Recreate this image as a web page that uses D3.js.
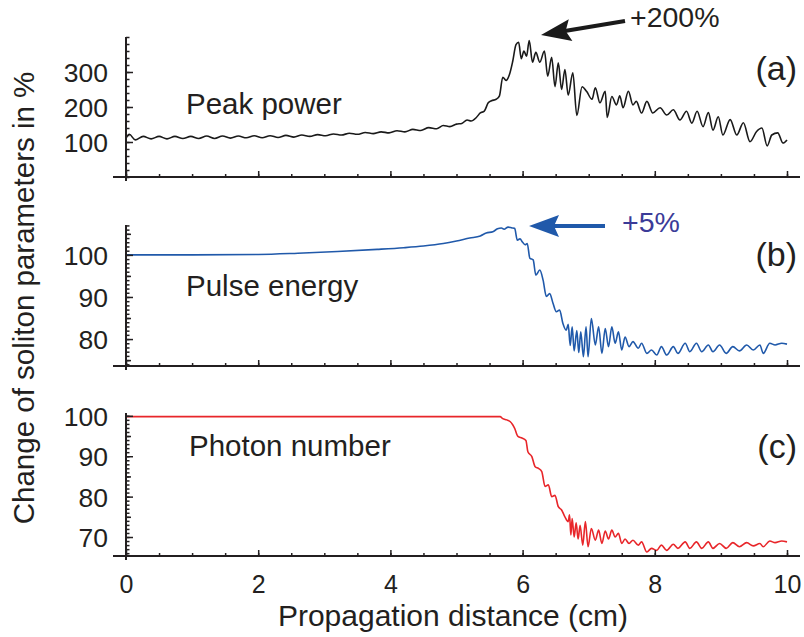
<!DOCTYPE html>
<html>
<head>
<meta charset="utf-8">
<script src="https://cdn.jsdelivr.net/npm/d3@7"></script>
<style>
  body { margin: 0; background: #fff; }
  svg text { font-family: "Liberation Sans", Arial, sans-serif; fill: #231f20; }
</style>
</head>
<body>
<svg width="804" height="637"></svg>
<script>
// data
const peakDist = [0,0.05,0.14,0.26,0.38,0.5,0.62,0.74,0.86,0.98,1.1,1.22,1.34,1.46,1.58,1.7,1.82,1.94,2.06,2.18,2.3,2.42,2.54,2.66,2.78,2.9,3.02,3.14,3.26,3.38,3.5,3.62,3.74,3.86,3.98,4.1,4.22,4.34,4.46,4.58,4.7,4.8,4.9,5.0,5.08,5.16,5.22,5.3,5.36,5.42,5.48,5.53,5.6,5.65,5.7,5.75,5.8,5.85,5.9,5.94,5.98,6.02,6.06,6.1,6.15,6.2,6.26,6.33,6.38,6.44,6.49,6.54,6.59,6.64,6.69,6.76,6.82,6.9,6.97,7.05,7.1,7.17,7.25,7.28,7.35,7.42,7.47,7.52,7.6,7.67,7.72,7.8,7.88,7.97,8.08,8.18,8.28,8.38,8.48,8.56,8.64,8.73,8.81,8.88,8.96,9.03,9.14,9.24,9.34,9.44,9.54,9.62,9.7,9.77,9.86,9.94,10];
const peakVal = [110,122,106,116,109,116,109,116,110,116,110,117,110,117,111,117,112,118,112,118,113,119,114,120,116,121,118,123,120,125,122,127,124,129,126,132,129,136,133,141,138,147,144,151,153,163,160,170,183,188,212,218,222,232,285,276,292,330,378,385,338,360,345,390,328,356,328,360,288,342,258,326,250,307,234,298,176,258,244,222,255,212,245,170,230,206,232,198,245,206,216,183,216,183,198,177,192,163,188,154,188,144,184,134,172,120,164,120,155,101,130,140,89,120,126,97,106];

const energyDist = [0,1,2,2.6,3.2,3.8,4.2,4.5,4.8,5.0,5.2,5.36,5.45,5.55,5.62,5.68,5.72,5.78,5.84,5.88,5.92,5.96,6.0,6.04,6.07,6.11,6.16,6.2,6.26,6.31,6.36,6.41,6.46,6.51,6.56,6.61,6.66,6.69,6.72,6.75,6.78,6.82,6.85,6.88,6.92,6.96,6.99,7.04,7.1,7.15,7.2,7.25,7.3,7.35,7.4,7.45,7.5,7.55,7.61,7.67,7.75,7.8,7.88,7.95,8.03,8.1,8.18,8.28,8.35,8.46,8.53,8.63,8.71,8.81,8.88,8.98,9.08,9.18,9.28,9.39,9.49,9.59,9.64,9.74,9.82,9.92,10];
const energyVal = [100,100,100.1,100.4,100.8,101.3,101.7,102.1,102.7,103.3,104,104.5,105.2,105.5,106.2,106.4,106.1,106.6,106.4,106.3,103.5,103.8,103,102.4,102.7,99.2,98.8,95.2,96.4,94,90.1,90.8,88.5,86.5,86.9,83.7,82.1,83.5,78.5,82.9,77.2,82,76.8,81.7,75.8,82.9,75.8,84.9,78.6,82.9,76.6,82.5,78.2,82.9,79,81.7,77.4,80.5,78.2,79.4,77.8,79,76.6,77.4,76.2,78.2,76.2,78.2,76.6,79,77,79,77,78.6,77,78.6,76.6,78.2,77.2,78.6,77.4,78.6,76.6,79,78.6,79,78.8];

const photonDist = [0,2,4,5.66,5.7,5.76,5.81,5.85,5.88,5.93,5.99,6.05,6.08,6.14,6.19,6.24,6.29,6.34,6.39,6.44,6.49,6.54,6.59,6.64,6.69,6.71,6.73,6.75,6.78,6.81,6.84,6.87,6.91,6.95,6.99,7.04,7.1,7.15,7.2,7.25,7.3,7.35,7.4,7.45,7.5,7.55,7.61,7.67,7.75,7.8,7.88,7.95,8.03,8.1,8.18,8.28,8.35,8.46,8.53,8.63,8.71,8.81,8.88,8.98,9.08,9.18,9.28,9.39,9.49,9.59,9.64,9.74,9.82,9.92,10];
const photonVal = [99.8,99.8,99.8,99.8,99.3,99,98.6,97.8,96.9,94.9,94.5,93.9,91.1,89.9,87.4,87,86.2,82.5,82.9,80,80.3,77.5,76.7,75,73.8,75.5,70.5,74.6,70,73.5,69.5,72.9,68,73.8,67.6,72.1,69.2,71.7,68.4,71.5,69.5,71.7,70,70.9,68.4,69.5,68.4,69.2,68,68.8,66.3,67.2,66.7,68,66.7,68.2,67.2,68.8,67.2,68.8,67.2,68.8,67.2,68.4,67.2,68.6,67.6,68.6,67.8,68.4,67.6,69,68.6,69,68.8];

const xTicks = [0, 2, 4, 6, 8, 10];
const peakTicks = [100, 200, 300];
const energyTicks = [80, 90, 100];
const photonTicks = [70, 80, 90, 100];

const svg = d3.select("svg");
const x = d3.scaleLinear().domain([0, 10]).range([126, 787]);

const panels = [
  {dist: peakDist, val: peakVal, ticks: peakTicks, minor: d3.range(0, 401, 20), mid: [],
   y: d3.scaleLinear().domain([0, 400]).range([177, 37]), color: "#1a1a1a",
   name: "Peak power", nx: 186, ny: 114, tag: "(a)", ty: 80},
  {dist: energyDist, val: energyVal, ticks: energyTicks, minor: d3.range(74, 108, 1), mid: [75, 85, 95, 105],
   y: d3.scaleLinear().domain([73.6, 107.1]).range([366, 225]), color: "#2059aa",
   name: "Pulse energy", nx: 186, ny: 296, tag: "(b)", ty: 266},
  {dist: photonDist, val: photonVal, ticks: photonTicks, minor: d3.range(66, 101, 1), mid: [75, 85, 95],
   y: d3.scaleLinear().domain([65.3, 100.7]).range([556, 413]), color: "#e8262a",
   name: "Photon number", nx: 189, ny: 456, tag: "(c)", ty: 458}
];

panels.forEach((p, i) => {
  const base = p.y.range()[0];
  const g = svg.append("g");

  // data line
  const line = d3.line().x((d, k) => x(p.dist[k])).y(d => p.y(d)).curve(d3.curveMonotoneX);
  g.append("path")
    .attr("d", line(p.val))
    .attr("fill", "none")
    .attr("stroke", p.color)
    .attr("stroke-width", 1.6)
    .attr("stroke-linejoin", "round");

  // y axis: minor, mid and major ticks pointing inwards
  const yMinor = g.append("g").attr("transform", "translate(126,0)")
    .call(d3.axisLeft(p.y).tickValues(p.minor).tickSizeInner(-3.5).tickSizeOuter(0).tickFormat(""));
  yMinor.select(".domain").remove();
  if (p.mid.length) {
    const yMid = g.append("g").attr("transform", "translate(126,0)")
      .call(d3.axisLeft(p.y).tickValues(p.mid).tickSizeInner(-5).tickSizeOuter(0).tickFormat(""));
    yMid.select(".domain").remove();
  }
  const yMajor = g.append("g").attr("transform", "translate(126,0)")
    .call(d3.axisLeft(p.y).tickValues(p.ticks).tickSizeInner(-7).tickSizeOuter(0).tickPadding(18));
  yMajor.select(".domain").remove();
  yMajor.selectAll("text").style("font-size", "26.5px").attr("dy", "0.36em");
  g.selectAll(".tick line").attr("stroke", "#231f20").attr("stroke-width", 1.5);

  g.append("line")
    .attr("x1", 126).attr("x2", 126)
    .attr("y1", p.y.range()[1]).attr("y2", base + 4)
    .attr("stroke", "#231f20").attr("stroke-width", 2);

  // x axis
  const xMinor = g.append("g").attr("transform", `translate(0,${base})`)
    .call(d3.axisBottom(x).tickValues(d3.range(0, 10.01, 0.5)).tickSizeInner(-3).tickSizeOuter(0).tickFormat(""));
  xMinor.select(".domain").remove();
  const xMajor = g.append("g").attr("transform", `translate(0,${base})`)
    .call(d3.axisBottom(x).tickValues(xTicks).tickSizeInner(-6).tickSizeOuter(0).tickPadding(19)
      .tickFormat(i === 2 ? d3.format("d") : ""));
  xMajor.select(".domain").remove();
  xMajor.selectAll("text").style("font-size", "25px");
  g.selectAll(".tick line").attr("stroke", "#231f20").attr("stroke-width", 1.5);

  g.append("line")
    .attr("x1", 113).attr("x2", 800)
    .attr("y1", base).attr("y2", base)
    .attr("stroke", "#231f20").attr("stroke-width", 2);

  g.append("text").attr("x", p.nx).attr("y", p.ny)
    .style("font-size", "29.5px").text(p.name);
  g.append("text").attr("x", 797).attr("y", p.ty).attr("text-anchor", "end")
    .style("font-size", "34px").text(p.tag);
});

// arrows
function arrow(x1, y1, x2, y2, color) {
  const ang = Math.atan2(y2 - y1, x2 - x1);
  const len = 25, half = 11;
  const bx = x2 - len * Math.cos(ang), by = y2 - len * Math.sin(ang);
  svg.append("line").attr("x1", x1).attr("y1", y1).attr("x2", bx + 4 * Math.cos(ang)).attr("y2", by + 4 * Math.sin(ang))
    .attr("stroke", color).attr("stroke-width", 4);
  const pts = [[x2, y2],
    [bx + half * Math.sin(ang) - 5 * Math.cos(ang), by - half * Math.cos(ang) - 5 * Math.sin(ang)],
    [bx, by],
    [bx - half * Math.sin(ang) - 5 * Math.cos(ang), by + half * Math.cos(ang) - 5 * Math.sin(ang)]];
  svg.append("path").attr("d", "M" + pts.join("L") + "Z").attr("fill", color);
}
arrow(625, 21, 541, 35, "#1a1a1a");
arrow(605, 226, 529, 226, "#2059aa");

svg.append("text").attr("x", 630).attr("y", 27).style("font-size", "28.5px").text("+200%");
svg.append("text").attr("x", 622).attr("y", 232).style("font-size", "28.5px")
  .style("fill", "#3b3b98").text("+5%");

svg.append("text")
  .attr("transform", "translate(34,298) rotate(-90)")
  .attr("text-anchor", "middle")
  .style("font-size", "29.5px")
  .text("Change of soliton parameters in %");

svg.append("text").attr("x", 453).attr("y", 626).attr("text-anchor", "middle")
  .style("font-size", "30px").text("Propagation distance (cm)");
</script>
</body>
</html>
